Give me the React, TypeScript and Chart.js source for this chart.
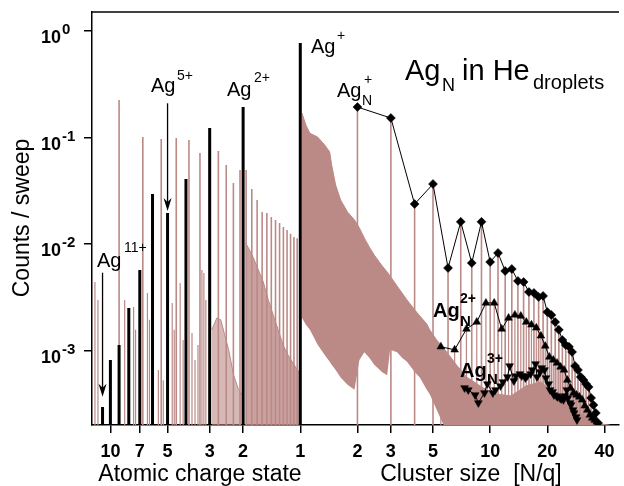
import { useEffect, useRef } from 'react';
import { Chart, registerables } from 'chart.js';
Chart.register(...registerables);

// ---------- axis ranges ----------
const X_MIN = 0.08;
const X_MAX = 47.7;
const Y_MIN = 2.01e-4;
const Y_MAX = 1.51;
const Y_FLOOR = 1e-4;
const HE_PER_AG = 4 / 108;

// ---------- tick labels ----------
const atomicTickQ = [10, 7, 5, 3, 2, 1];
const clusterTicks = [2, 3, 5, 10, 20, 40];
const yDecades = [0, -1, -2, -3];

// ---------- atomic Ag^q+ peaks (black) ----------
const agChargeStates = [1, 2, 3, 4, 5, 6, 7, 8, 9, 10, 11];
const agAtomicCounts = [0.772, 0.194, 0.123, 0.0409, 0.0196, 0.0296, 0.00573, 0.00252, 0.00113, 0.00082, 0.000297];

// ---------- He_n+ peaks (brown) ----------
const heSizes = [3, 4, 5, 6, 7, 8, 9, 10, 11, 12, 13, 14, 15, 16, 17, 18, 19, 20, 21, 22, 23, 24, 25, 26];
const heCounts = [0.2253, 0.1013, 0.097, 0.0991, 0.0949, 0.0717, 0.1, 0.0748, 0.0553, 0.0375, 0.0497, 0.0497, 0.0329,
  0.026, 0.02, 0.0196, 0.018, 0.0169, 0.0158, 0.0145, 0.0136, 0.0125, 0.0117, 0.0114];

// ---------- minor peaks in the atomic region ----------
const minorPeakX = [0.0829, 0.086, 0.1189, 0.1325, 0.1357, 0.1567, 0.1606, 0.1789, 0.1899, 0.2116, 0.2168, 0.233,
  0.2415, 0.269, 0.279, 0.2892, 0.3034, 0.3107, 0.3183];
const minorPeakCounts = [0.00442, 0.003, 0.003, 0.00258, 0.00157, 0.00349, 0.00195, 0.00066, 0.00053, 0.00281, 0.00157,
  0.00433, 0.00126, 0.00147, 0.00082, 0.00113, 0.00573, 0.00537, 0.003];

// ---------- Ag_N+ (diamonds) ----------
const agNPlusSizes = [2, 3, 4, 5, 6, 7, 8, 9, 10, 11, 12, 13, 14, 15, 16, 17, 18, 19, 20, 21, 22, 23, 24, 25, 26, 27, 28,
  29, 30, 31, 32, 33, 34, 35, 36, 37];
const agNPlusCounts = [0.1937, 0.1527, 0.0238, 0.0367, 0.00598, 0.0162, 0.00666, 0.0162, 0.00681, 0.00827, 0.00561,
  0.00585, 0.00452, 0.00442, 0.00356, 0.00349, 0.0032, 0.00327, 0.00231, 0.00217, 0.00186, 0.00157, 0.00126, 0.00113,
  0.00109, 0.000974, 0.00072, 0.00066, 0.000568, 0.000532, 0.000488, 0.000457, 0.000361, 0.00031, 0.000261, 0.00021];

// ---------- Ag_N 2+ (up triangles) ----------
const agN2Sizes = [11, 13, 15, 17, 19, 21, 23, 25, 27, 29, 31, 33, 35, 37, 39, 41, 43, 45, 47, 49, 51, 53, 55, 57, 59, 61,
  63, 65, 67, 69, 71, 73];
const agN2Counts = [0.00109, 0.00102, 0.0016, 0.00186, 0.00281, 0.00281, 0.0016, 0.00203, 0.00217, 0.00212, 0.00186,
  0.00175, 0.00164, 0.00138, 0.00111, 0.000874, 0.00082, 0.000768, 0.000705, 0.000661, 0.000532, 0.000448, 0.000402,
  0.000385, 0.000369, 0.000346, 0.000304, 0.000278, 0.00025, 0.000234, 0.000224, 0.000215];

// ---------- Ag_N 3+ (down triangles) ----------
const agN3Sizes = [22, 23, 25, 26, 28, 29, 31, 32, 34, 35, 37, 38, 40, 41, 43, 44, 46, 47, 49, 50, 52, 53, 55, 56, 58, 59,
  61, 62, 64, 65, 67, 68, 70, 71, 73, 74, 76, 77, 79, 80, 82, 83, 85, 86];
const agN3Counts = [0.000448, 0.000429, 0.000385, 0.000324, 0.000402, 0.000488, 0.000402, 0.000429, 0.000467, 0.00051,
  0.000568, 0.00072, 0.000521, 0.00058, 0.000606, 0.00058, 0.000556, 0.00058, 0.000606, 0.000661, 0.000752, 0.000568,
  0.000633, 0.00069, 0.000661, 0.000556, 0.000488, 0.000429, 0.000411, 0.000385, 0.000377, 0.000369, 0.000361, 0.000353,
  0.000346, 0.000377, 0.000429, 0.000361, 0.000324, 0.00031, 0.000278, 0.000261, 0.000239, 0.000224];

// ---------- dense Ag_N He_n+ band (after Ag+) ----------
const bandAgHeX = [1.0206, 1.0709, 1.1235, 1.2367, 1.3451, 1.4287, 1.4634, 1.5354, 1.6309, 1.7736, 1.9292, 2.0484, 2.1752,
  2.3097, 2.4526, 2.7007, 2.8679, 2.9731, 3.2335, 3.434, 3.6468, 4.0128, 4.2624, 4.637, 4.8071, 5.2285, 5.6866, 6.6471,
  7.4961, 9.1933, 10.747, 12.871, 15.408, 18.453, 20.81, 23.462, 26.461, 29.837, 33.644, 37.941, 42.79];
const bandAgHeUpper = [0.17, 0.131, 0.11, 0.101, 0.0852, 0.0733, 0.0553, 0.0359, 0.026, 0.02, 0.0169, 0.0142, 0.0114,
  0.0094, 0.0079, 0.00625, 0.00549, 0.00503, 0.00405, 0.00349, 0.003, 0.00241, 0.00212, 0.00178, 0.00157, 0.00126,
  0.00106, 0.000736, 0.000568, 0.000448, 0.000393, 0.000377, 0.000467, 0.00051, 0.000429, 0.000346, 0.000297, 0.000255,
  0.000229, 0.000206, 0.0002];
const bandAgHeLower = [0.00203, 0.00175, 0.00157, 0.00113, 0.00091, 0.00079, 0.00074, 0.00066, 0.00056, 0.00048, 0.00043,
  0.00082, 0.00097, 0.00086, 0.00074, 0.00063, 0.00059, 0.00102, 0.00097, 0.00086, 0.00079, 0.00063, 0.00056, 0.00043,
  0.00039, 0.00028, 0.0002, 0.0001, 0.0001, 0.0001, 0.0001, 0.0001, 0.0001, 0.0001, 0.0001, 0.0001, 0.0001, 0.0001,
  0.0001, 0.0001, 0.0001];

// ---------- Ag2+ He_n band ----------
const bandAg2HeX = [0.5147, 0.5336, 0.5666, 0.6017, 0.6388, 0.6783, 0.7202, 0.7648, 0.8122, 0.8627, 0.9271, 0.9845];
const bandAg2HeUpper = [0.0103, 0.00921, 0.00742, 0.00573, 0.00442, 0.003, 0.00217, 0.00157, 0.00113, 0.00091, 0.00074,
  0.00063];

// ---------- Ag3+ He_n band ----------
const bandAg3HeX = [0.3421, 0.3633, 0.3812, 0.3999, 0.4196, 0.4456, 0.4731, 0.4905];
const bandAg3HeUpper = [0.00157, 0.00203, 0.00195, 0.00141, 0.00102, 0.00059, 0.00043, 0.00039];

// ---------- styling ----------
const FONT = "'Liberation Sans', Arial, Helvetica, sans-serif";
const BROWN = 'rgb(187,138,135)';

type Lbl = { t: string; x: number; y: number; s: number; b?: boolean };
const annotationLabels: Lbl[] = [
  { t: 'Ag', x: 97, y: 267, s: 20 }, { t: '11+', x: 124, y: 252, s: 14 },
  { t: 'Ag', x: 151, y: 92, s: 20 }, { t: '5+', x: 177, y: 80, s: 14 },
  { t: 'Ag', x: 227, y: 96, s: 20 }, { t: '2+', x: 254, y: 82, s: 14 },
  { t: 'Ag', x: 311, y: 53, s: 20 }, { t: '+', x: 337, y: 40, s: 14 },
  { t: 'Ag', x: 337, y: 97, s: 20 }, { t: '+', x: 364, y: 84, s: 14 }, { t: 'N', x: 362, y: 105, s: 14 },
  { t: 'Ag', x: 405, y: 80, s: 29 }, { t: 'N', x: 442, y: 91, s: 18 }, { t: 'in He', x: 462, y: 80, s: 29 },
  { t: 'droplets', x: 533, y: 89, s: 20 },
  { t: 'Ag', x: 433, y: 317, s: 20, b: true }, { t: '2+', x: 460, y: 303, s: 14, b: true },
  { t: 'N', x: 460, y: 326, s: 15, b: true },
  { t: 'Ag', x: 460, y: 377, s: 20, b: true }, { t: '3+', x: 487, y: 363, s: 14, b: true },
  { t: 'N', x: 487, y: 384, s: 15, b: true },
];

const spikeData = (xs: number[], ys: number[]) =>
  xs.flatMap((x, i) => [{ x, y: Y_FLOOR }, { x, y: ys[i] }, { x, y: null as any }]);
const pts = (xs: number[], ys: number[]) => xs.map((x, i) => ({ x, y: ys[i] }));

function drawArrow(ctx: CanvasRenderingContext2D, x: number, y0: number, y1: number) {
  ctx.beginPath();
  ctx.lineWidth = 1.3;
  ctx.moveTo(x, y0);
  ctx.lineTo(x, y1 - 8);
  ctx.stroke();
  ctx.beginPath();
  ctx.moveTo(x, y1);
  ctx.lineTo(x - 4, y1 - 13);
  ctx.lineTo(x, y1 - 9);
  ctx.lineTo(x + 4, y1 - 13);
  ctx.closePath();
  ctx.fill();
}

const decorPlugin = {
  id: 'decor',
  afterDraw(chart: any) {
    const { ctx, chartArea: a } = chart;
    const xs = chart.scales.x;
    const ys = chart.scales.y;
    ctx.save();
    ctx.strokeStyle = '#000';
    ctx.fillStyle = '#000';
    ctx.lineWidth = 1.5;
    ctx.beginPath();
    ctx.moveTo(a.left - 0.75, a.top);
    ctx.lineTo(a.right, a.top);
    ctx.stroke();
    ctx.textBaseline = 'alphabetic';

    // y tick labels
    yDecades.forEach((e) => {
      const py = ys.getPixelForValue(Math.pow(10, e));
      ctx.font = `bold 18px ${FONT}`;
      ctx.textAlign = 'right';
      ctx.fillText('10', 61, py + 12);
      ctx.font = `bold 15px ${FONT}`;
      ctx.textAlign = 'left';
      ctx.fillText(e === 0 ? '0' : `-${-e}`, 62, py + 3);
    });

    // x tick labels
    ctx.font = `bold 18px ${FONT}`;
    ctx.textAlign = 'center';
    atomicTickQ.forEach((q) => ctx.fillText(String(q), xs.getPixelForValue(1 / q), a.bottom + 32));
    clusterTicks.forEach((v) => ctx.fillText(String(v), xs.getPixelForValue(v), a.bottom + 32));

    // axis titles
    ctx.font = `23px ${FONT}`;
    ctx.fillText('Atomic charge state', 200, 481);
    ctx.fillText('Cluster size  [N/q]', 471, 481);
    ctx.save();
    ctx.translate(29, 218);
    ctx.rotate(-Math.PI / 2);
    ctx.fillText('Counts / sweep', 0, 0);
    ctx.restore();

    // annotations
    ctx.textAlign = 'left';
    annotationLabels.forEach((l) => {
      ctx.font = `${l.b ? 'bold ' : ''}${l.s}px ${FONT}`;
      ctx.fillText(l.t, l.x, l.y);
    });

    // arrows
    drawArrow(ctx, xs.getPixelForValue(1 / 5), ys.getPixelForValue(0.21), ys.getPixelForValue(0.0205));
    drawArrow(ctx, xs.getPixelForValue(1 / 11), ys.getPixelForValue(0.0054), ys.getPixelForValue(0.00037));
    ctx.restore();
  },
};

export default function App() {
  const ref = useRef<HTMLCanvasElement>(null);
  useEffect(() => {
    const axisCommon = {
      type: 'logarithmic' as const,
      z: 1,
      ticks: { display: false },
      grid: { drawOnChartArea: false, drawTicks: true, tickLength: 8, color: '#000', lineWidth: 1.5 },
      border: { display: true, color: '#000', width: 1.5 },
    };
    const chart = new Chart(ref.current as HTMLCanvasElement, {
      type: 'line',
      data: {
        datasets: [
          {
            data: pts(agNPlusSizes, agNPlusCounts),
            borderColor: '#000', borderWidth: 1, pointStyle: 'rectRot', pointRadius: 4.5,
            pointBackgroundColor: '#000', pointBorderColor: '#000', pointBorderWidth: 0.5, order: 0,
          },
          {
            data: pts(agN2Sizes.map((n) => n / 2), agN2Counts),
            borderColor: '#000', borderWidth: 1, pointStyle: 'triangle', pointRadius: 4.5,
            pointBackgroundColor: '#000', pointBorderColor: '#000', pointBorderWidth: 0.5, order: 0,
          },
          {
            data: pts(agN3Sizes.map((n) => n / 3), agN3Counts),
            borderColor: '#000', borderWidth: 1, pointStyle: 'triangle', pointRotation: 180, pointRadius: 4.5,
            pointBackgroundColor: '#000', pointBorderColor: '#000', pointBorderWidth: 0.5, order: 0,
          },
          {
            data: spikeData(agChargeStates.map((q) => 1 / q), agAtomicCounts),
            borderColor: '#000', borderWidth: 3, pointRadius: 0, borderCapStyle: 'butt', order: 1, clip: 0,
          },
          {
            data: spikeData(heSizes.map((n) => n * HE_PER_AG), heCounts),
            borderColor: BROWN, borderWidth: 1.6, pointRadius: 0, order: 2, clip: 0,
          },
          {
            data: spikeData(agNPlusSizes, agNPlusCounts),
            borderColor: BROWN, borderWidth: 1.6, pointRadius: 0, order: 2, clip: 0,
          },
          {
            data: spikeData(agN2Sizes.map((n) => n / 2), agN2Counts),
            borderColor: BROWN, borderWidth: 1.2, pointRadius: 0, order: 2, clip: 0,
          },
          {
            data: spikeData(minorPeakX, minorPeakCounts),
            borderColor: BROWN, borderWidth: 1.2, pointRadius: 0, order: 2, clip: 0,
          },
          {
            data: pts(bandAgHeX, bandAgHeUpper),
            borderColor: BROWN, borderWidth: 1, pointRadius: 0, fill: '+1', backgroundColor: BROWN, order: 3, clip: 0,
          },
          {
            data: pts(bandAgHeX, bandAgHeLower),
            borderColor: 'rgba(0,0,0,0)', borderWidth: 1, pointRadius: 0, order: 3, clip: 0,
          },
          {
            data: pts(bandAg2HeX, bandAg2HeUpper),
            borderColor: BROWN, borderWidth: 1, pointRadius: 0, fill: 'start',
            backgroundColor: 'rgba(187,138,135,0.8)', order: 3, clip: 0,
          },
          {
            data: pts(bandAg3HeX, bandAg3HeUpper),
            borderColor: BROWN, borderWidth: 1, pointRadius: 0, fill: 'start',
            backgroundColor: 'rgba(187,138,135,0.6)', order: 3, clip: 0,
          },
        ] as any,
      },
      options: {
        responsive: false,
        animation: false,
        devicePixelRatio: 1,
        layout: { padding: { top: 12, right: 0, left: 0, bottom: 0 } },
        plugins: { legend: { display: false }, tooltip: { enabled: false } },
        scales: {
          x: {
            ...axisCommon,
            position: 'bottom',
            min: X_MIN,
            max: X_MAX,
            afterBuildTicks: (s: any) => {
              s.ticks = [...atomicTickQ.map((q) => 1 / q), ...clusterTicks].map((v) => ({ value: v }));
            },
            afterFit: (s: any) => { s.height = 61; },
          },
          y: {
            ...axisCommon,
            position: 'left',
            min: Y_MIN,
            max: Y_MAX,
            afterBuildTicks: (s: any) => {
              s.ticks = yDecades.map((e) => ({ value: Math.pow(10, e) }));
            },
            afterFit: (s: any) => { s.width = 92; },
          },
        } as any,
      },
      plugins: [decorPlugin],
    });
    return () => chart.destroy();
  }, []);
  return (
    <div style={{ position: 'absolute', left: 0, top: 0, width: 624, height: 486 }}>
      <canvas ref={ref} width={624} height={486} style={{ display: 'block', width: 624, height: 486 }} />
    </div>
  );
}
